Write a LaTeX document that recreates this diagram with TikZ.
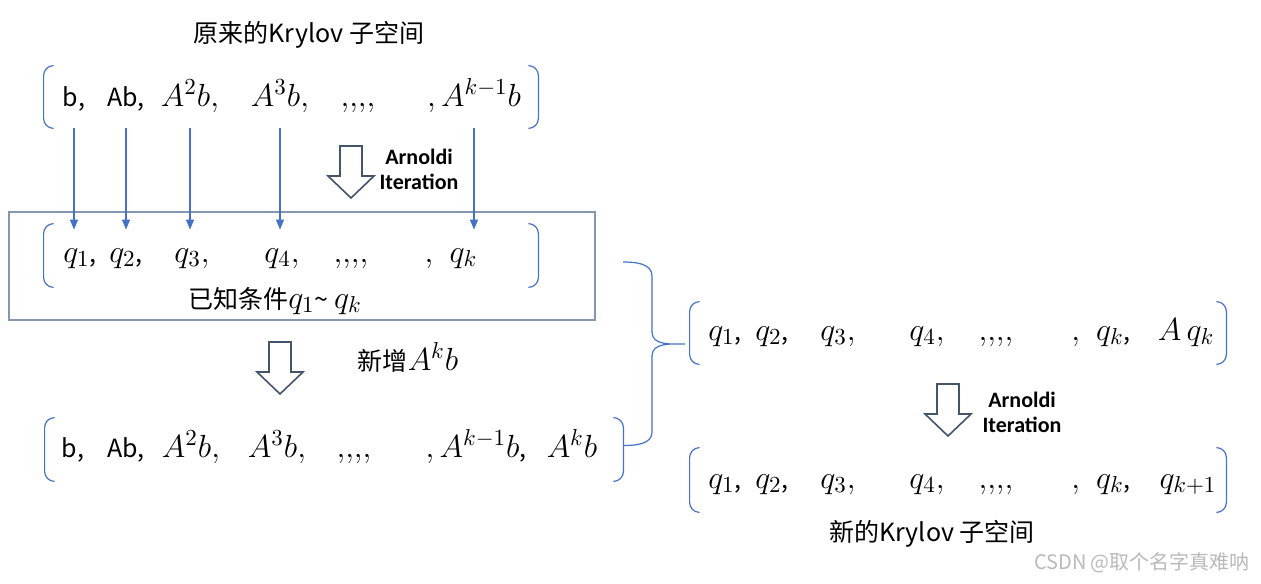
\documentclass[tikz,border=0pt]{standalone}
\usepackage{fix-cm}
\usepackage{fontspec}
\setmainfont{Noto Sans CJK SC}
\newfontfamily\iterfont{Carlito}
\usepackage{tikz}
\usetikzlibrary{arrows.meta, positioning}
\DeclareMathSizes{12.5}{16}{11.5}{9}

\definecolor{brkblue}{HTML}{4472C4}
\definecolor{boxgray}{HTML}{8497B0}
\definecolor{hollowgray}{HTML}{44546A}

\tikzset{
  brk/.style = {brkblue, line width=0.6pt},
  link/.style = {brkblue, line width=0.6pt, shorten >=-3pt, -{Triangle[width=4pt, length=5pt]}},
  brow/.style = {inner sep=0pt},
  item/.style = {anchor=base, inner sep=0pt},
  iterlabel/.style = {align=center, inner sep=0pt, font=\iterfont\bfseries\fontsize{11}{12.5}\selectfont},
  hollowline/.style = {hollowgray, line width=0.8pt, fill=white, line join=miter},
  hollowdown/.pic = {\draw[hollowline] (-11,0) -- (11,0) -- (11,-30) -- (23,-30) -- (0,-52) -- (-23,-30) -- (-11,-30) -- cycle;}
}

% rounded brackets round a row node
\newcommand{\rowbrk}[1]{%
  \draw[brk] ([xshift=5pt]#1.north west) to[out=180, in=90] ([yshift=-5pt]#1.north west)
    -- ([yshift=5pt]#1.south west) to[out=-90, in=180] ([xshift=5pt]#1.south west);
  \draw[brk] ([xshift=-5pt]#1.north east) to[out=0, in=90] ([yshift=-5pt]#1.north east)
    -- ([yshift=5pt]#1.south east) to[out=-90, in=0] ([xshift=-5pt]#1.south east);}

\begin{document}
\begin{tikzpicture}[x=0.5pt, y=0.5pt, font=\fontsize{12.5}{15}\selectfont]
	\useasboundingbox (0,0) rectangle (1261,-583);
	% Original Krylov subspace
	\node (oldtitle) [item] at (309,-43) {原来的Krylov 子空间};
	\node (rowA) [brow, minimum width=247pt, minimum height=31pt] at (291,-97) {};
	\rowbrk{rowA}
	\node (a1) [item] at (74,-106) {b,};
	\node (a2) [item] at (126,-106) {Ab,};
	\node (a3) [item] at (190,-106) {$A^2b,$};
	\node (a4) [item] at (280,-106) {$A^3b,$};
	\node (a5) [item] at (358,-106) {${,}{,}{,}{,}$};
	\node (a6) [item] at (474,-106) {$,A^{k-1}b$};
	% Known box
	\node (known) [draw=boxgray, line width=1pt, inner sep=0pt, minimum width=293pt, minimum height=54pt] at (302,-266) {};
	\node (rowQ) [brow, minimum width=247pt, minimum height=31.5pt] at (291,-255.5) {};
	\rowbrk{rowQ}
	\node (q1) [item] at (80,-262) {$q_1$,};
	\node (q2) [item] at (126,-262) {$q_2$,};
	\node (q3) [item] at (192,-262) {$q_3,$};
	\node (q4) [item] at (282,-262) {$q_4,$};
	\node (q5) [item] at (351,-262) {${,}{,}{,}{,}$};
	\node (q6) [item] at (451,-262) {$,\ \,q_k$};
	\node (knowntext) [item] at (275,-308) {已知条件$q_1$\textasciitilde\ $q_k$};
	% Arrows down to the q's
	\draw[link] (a1 |- rowA.south) -- (a1 |- rowQ.north);
	\draw[link] (a2 |- rowA.south) -- (a2 |- rowQ.north);
	\draw[link] (a3 |- rowA.south) -- (a3 |- rowQ.north);
	\draw[link] (a4 |- rowA.south) -- (a4 |- rowQ.north);
	\draw[link] (a6 |- rowA.south) -- (a6 |- rowQ.north);
	\pic at (351,-146) {hollowdown};
	\node (iter1) [iterlabel] at (419,-169) {Arnoldi\\Iteration};
	% Add A^k b
	\pic at (280,-342) {hollowdown};
	\node (addtext) [item] at (408,-370) {新增$A^kb$};
	\node (rowB) [brow, minimum width=289pt, minimum height=31.5pt] at (334,-449.5) {};
	\rowbrk{rowB}
	\node (b1) [item] at (73,-457) {b,};
	\node (b2) [item] at (126,-457) {Ab,};
	\node (b3) [item] at (191,-457) {$A^2b,$};
	\node (b4) [item] at (277,-457) {$A^3b,$};
	\node (b5) [item] at (354,-457) {${,}{,}{,}{,}$};
	\node (b6) [item] at (476,-457) {$,A^{k-1}b$,};
	\node (b7) [item] at (572,-457) {$A^kb$};
	% Brace
	\coordinate (braceTop) at (623,-262);
	\coordinate (braceTip) at (685,-344);
	\draw[brk] (braceTop) to[out=0, in=90] (652,-276) -- (652,-332) to[out=-90, in=180] (braceTip)
		to[out=180, in=90] (652,-356) -- (652,-432) to[out=-90, in=0] ([yshift=2pt]rowB.east);
	% New rows
	\node (rowR) [brow, minimum width=268pt, minimum height=31pt] at (958,-333) {};
	\rowbrk{rowR}
	\node (r1) [item] at (725,-340) {$q_1$,};
	\node (r2) [item] at (772,-340) {$q_2$,};
	\node (r3) [item] at (838,-340) {$q_3,$};
	\node (r4) [item] at (927,-340) {$q_4,$};
	\node (r5) [item] at (996,-340) {${,}{,}{,}{,}$};
	\node (r6) [item] at (1101,-340) {$,\ \,q_k$,};
	\node (r7) [item] at (1186,-340) {$A\,q_k$};
	\pic at (948,-384) {hollowdown};
	\node (iter2) [iterlabel] at (1022,-412) {Arnoldi\\Iteration};
	\node (rowN) [brow, minimum width=268pt, minimum height=32pt] at (958,-480) {};
	\rowbrk{rowN}
	\node (n1) [item] at (725,-488) {$q_1$,};
	\node (n2) [item] at (772,-488) {$q_2$,};
	\node (n3) [item] at (838,-488) {$q_3,$};
	\node (n4) [item] at (927,-488) {$q_4,$};
	\node (n5) [item] at (996,-488) {${,}{,}{,}{,}$};
	\node (n6) [item] at (1101,-488) {$,\ \,q_k$,};
	\node (n7) [item] at (1188,-488) {$q_{k+1}$};
	\node (newtitle) [item] at (932,-541) {新的Krylov 子空间};
	\node (mark) [text=gray!55, font=\fontsize{10}{12}\selectfont] at (1142,-563) {CSDN @取个名字真难呐};
\end{tikzpicture}
\end{document}
